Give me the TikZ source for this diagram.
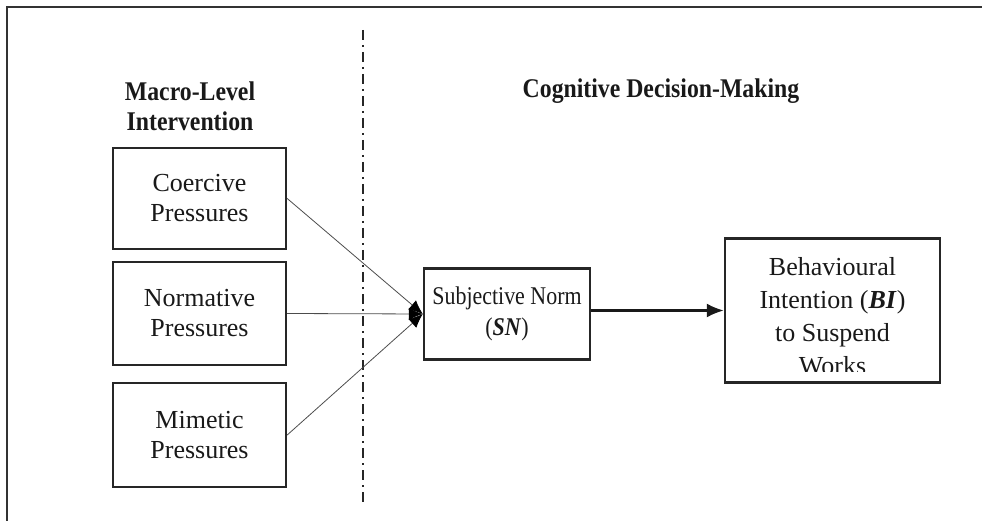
\documentclass[tikz,border=0pt]{standalone}
\usepackage{fontspec}
\setmainfont{Liberation Serif}
\newfontfamily\snfont[FakeStretch=0.86]{Liberation Serif}
\newfontfamily\hdfont[FakeStretch=0.88]{Liberation Serif}
\usetikzlibrary{arrows.meta}
\begin{document}
\begin{tikzpicture}[x=1pt,y=-1pt,
  box/.style={draw=black!85, line width=2.4pt, inner sep=0pt, text=black!90},
  body/.style={font=\fontsize{26}{30}\selectfont, align=center},
  head/.style={font=\hdfont\bfseries\fontsize{27}{30}\selectfont, align=center, text=black!90},
  link/.style={draw=black!70, line width=0.8pt, -{Latex[length=14pt,width=12pt,fill=black,color=black]}},
  mainlink/.style={draw=black!90, line width=2.2pt, -{Latex[length=17pt,width=14pt]}},
]
\useasboundingbox (0,0) rectangle (982,521);
% frame
\coordinate (fa) at (7,521);
\coordinate (fb) at (7,7);
\coordinate (fc) at (982,7);
\draw[line width=2.4pt, black!80] (fa) -- (fb) -- (fc);
% divider
\coordinate (da) at (363,30);
\coordinate (db) at (363,505);
\draw[line width=2.3pt, black!85, dash pattern=on 10pt off 5pt on 2pt off 5pt] (da) -- (db);
% headings
\node[head] (h1) at (190,106) {Macro-Level\\Intervention};
\node[head] (h2) at (661,91) {Cognitive Decision-Making};
% boxes
\node[box, body, minimum width=173pt, minimum height=101pt] (coe) at (199.5,198.5) {Coercive\\Pressures};
\node[box, body, minimum width=173pt, minimum height=103pt] (nor) at (199.5,313.5) {Normative\\Pressures};
\node[box, body, minimum width=173pt, minimum height=104pt] (mim) at (199.5,435) {Mimetic\\Pressures};
\node[box, font=\snfont\fontsize{25.5}{31}\selectfont, align=center, minimum width=166pt, minimum height=91pt] (sn) at (507,314) {Subjective Norm\\(\textbf{\textit{SN}})};
\node[box, minimum width=215pt, minimum height=144pt] (bi) at (832.5,310.5) {};
\begin{scope}
\clip (725,238) rectangle (940,371);
\node[font=\fontsize{26}{33}\selectfont, align=center, text=black!90] (bitext) at (832.5,316) {Behavioural\\Intention (\textbf{\textit{BI}})\\to Suspend\\Works};
\end{scope}
% connectors
\draw[link] (coe.east) -- (sn.west);
\draw[link] (nor.east) -- (sn.west);
\draw[link] (mim.east) -- (sn.west);
\draw[mainlink] (sn.east |- bi.west) -- (bi.west);
\end{tikzpicture}
\end{document}
